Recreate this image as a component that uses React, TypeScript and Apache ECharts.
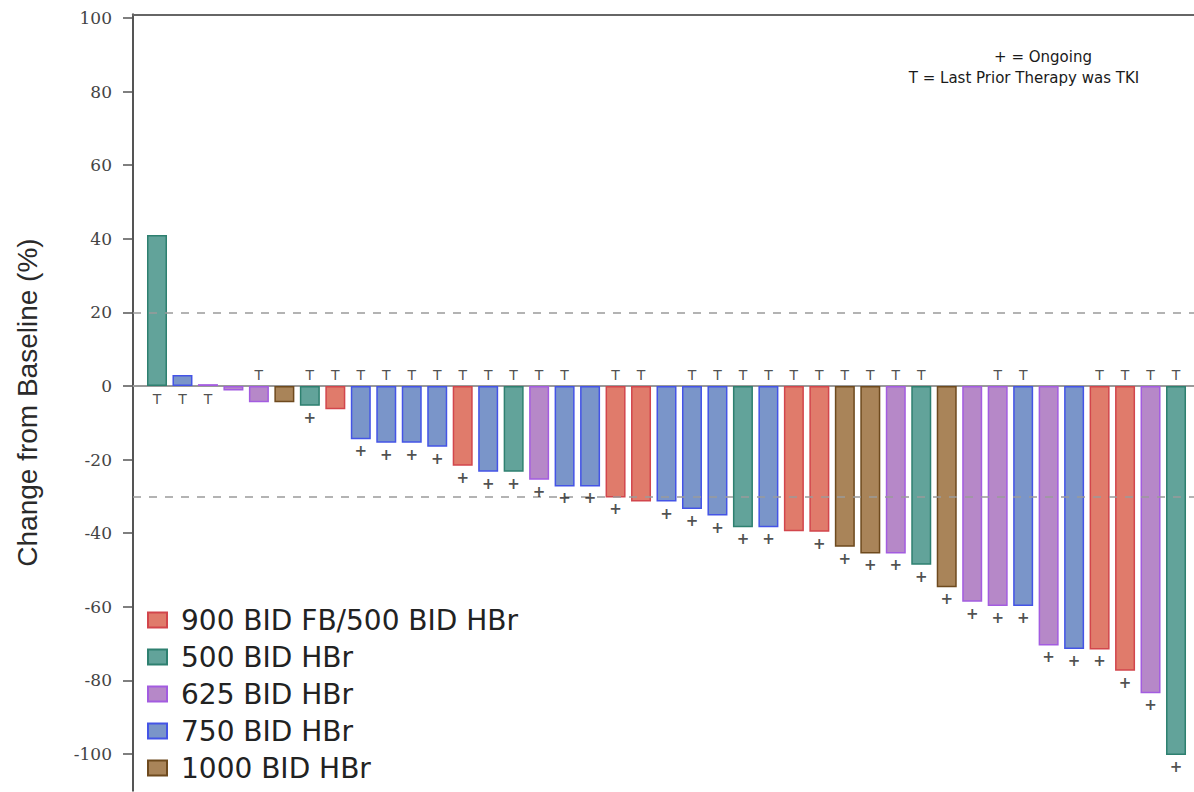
import React, { useEffect, useRef } from "react";
import * as echarts from "echarts";

// Dose groups (legend order)
const groupNames = [
  "900 BID FB/500 BID HBr",
  "500 BID HBr",
  "625 BID HBr",
  "750 BID HBr",
  "1000 BID HBr",
];
const groupFill = ["#E07B6B", "#62A39A", "#B688C8", "#7A95C9", "#A98459"];
const groupBorder = ["#D2464C", "#2E8070", "#A35CE0", "#4454E6", "#6E4A1E"];

// Best % change from baseline, one per patient (waterfall order)
const changes = [
  41, 3, 0.5, -1.2, -4.4, -4.4, -5.4, -6.3, -14.5, -15.4,
  -15.4, -16.5, -21.7, -23.3, -23.3, -25.5, -27.3, -27.3, -30.3, -31.4,
  -31.4, -33.4, -35.2, -38.4, -38.4, -39.5, -39.6, -43.7, -45.5, -45.5,
  -48.6, -54.7, -58.6, -59.8, -59.8, -70.5, -71.5, -71.6, -77.4, -83.5,
  -100.3,
];
// index into groupNames
const doseGroup = [
  1, 3, 2, 2, 2, 4, 1, 0, 3, 3,
  3, 3, 0, 3, 1, 2, 3, 3, 0, 0,
  3, 3, 3, 1, 3, 0, 0, 4, 4, 2,
  1, 4, 2, 2, 3, 2, 3, 0, 0, 2,
  1,
];
// "+" = ongoing
const ongoing = [
  0, 0, 0, 0, 0, 0, 1, 0, 1, 1,
  1, 1, 1, 1, 1, 1, 1, 1, 1, 0,
  1, 1, 1, 1, 1, 0, 1, 1, 1, 1,
  1, 1, 1, 1, 1, 1, 1, 1, 1, 1,
  1,
];
// "T" = last prior therapy was TKI
const priorTKI = [
  1, 1, 1, 0, 1, 0, 1, 1, 1, 1,
  1, 1, 1, 1, 1, 1, 1, 0, 1, 1,
  0, 1, 1, 1, 1, 1, 1, 1, 1, 1,
  1, 0, 0, 1, 1, 0, 0, 1, 1, 1,
  1,
];
const yTicks = [-100, -80, -60, -40, -20, 0, 20, 40, 60, 80, 100];
const refLines = [20, -30];

const X_MIN = -0.942;
const X_MAX = 40.706;

export default function App() {
  const ref = useRef<HTMLDivElement>(null);

  useEffect(() => {
    if (!ref.current) return;
    const chart = echarts.init(ref.current, null, { renderer: "svg" });

    const barSeries = groupNames.map((name, g) => ({
      name,
      type: "bar",
      barWidth: 20,
      barGap: "-100%",
      xAxisIndex: 0,
      itemStyle: {
        color: groupFill[g],
        borderColor: groupBorder[g],
        borderWidth: 1.5,
      },
      data: changes
        .map((v, i) => (doseGroup[i] === g ? [i, v] : null))
        .filter((d) => d !== null),
      markLine:
        g === 0
          ? {
              silent: true,
              symbol: "none",
              label: { show: false },
              lineStyle: { color: "#9a9a9a", width: 1.5, type: [8, 8] },
              data: refLines.map((y) => ({ yAxis: y })),
            }
          : undefined,
    }));

    const tSeries = {
      name: "T",
      type: "scatter",
      symbol: "circle",
      symbolSize: 1,
      itemStyle: { color: "rgba(0,0,0,0)" },
      z: 5,
      label: {
        show: true,
        formatter: "T",
        position: "inside",
        fontFamily: "DejaVu Sans",
        fontSize: 14,
        color: "#222",
        textBorderWidth: 0,
      },
      data: changes
        .map((v, i) =>
          priorTKI[i]
            ? { value: [i, 0], label: { offset: [0, v > 0 ? 13 : -11] } }
            : null
        )
        .filter((d) => d !== null),
    };

    const plusSeries = {
      name: "+",
      type: "scatter",
      symbol: "circle",
      symbolSize: 1,
      itemStyle: { color: "rgba(0,0,0,0)" },
      z: 5,
      label: {
        show: true,
        formatter: "+",
        position: "inside",
        offset: [0, 12],
        fontFamily: "DejaVu Sans",
        fontWeight: "bold",
        fontSize: 15,
        color: "#222",
        textBorderWidth: 0,
      },
      data: changes
        .map((v, i) => (ongoing[i] ? [i, v] : null))
        .filter((d) => d !== null),
    };

    chart.setOption({
      animation: false,
      backgroundColor: "#ffffff",
      grid: { left: 133, right: 0, top: 14.3, bottom: 1.2, containLabel: false },
      legend: {
        data: groupNames,
        orient: "vertical",
        left: 147,
        top: 606,
        itemWidth: 19,
        itemHeight: 15,
        itemGap: 9,
        padding: 0,
        icon: "rect",
        textStyle: {
          fontFamily: "DejaVu Sans",
          fontSize: 28,
          color: "#222",
          padding: [0, 0, 0, 9],
        },
      },
      xAxis: [
        {
          type: "value",
          min: X_MIN,
          max: X_MAX,
          axisLine: { show: true, onZero: true, lineStyle: { color: "#9a9a9a", width: 2 } },
          axisTick: { show: false },
          axisLabel: { show: false },
          splitLine: { show: false },
        },
        {
          type: "value",
          position: "top",
          min: X_MIN,
          max: X_MAX,
          axisLine: { show: true, onZero: false, lineStyle: { color: "#666", width: 2 } },
          axisTick: { show: false },
          axisLabel: { show: false },
          splitLine: { show: false },
        },
      ],
      yAxis: {
        type: "value",
        min: -110,
        max: 101,
        name: "Change from Baseline (%)",
        nameLocation: "middle",
        nameGap: 92,
        nameTextStyle: { fontFamily: "Liberation Sans", fontSize: 28, color: "#2a2a2a" },
        axisLine: { show: true, onZero: false, lineStyle: { color: "#555", width: 2 } },
        axisTick: { show: true, length: 10, customValues: yTicks, lineStyle: { color: "#555", width: 1.5 } },
        axisLabel: {
          customValues: yTicks,
          margin: 21,
          fontFamily: "DejaVu Serif",
          fontSize: 17,
          color: "#444",
        },
        splitLine: { show: false },
      },
      graphic: [
        {
          type: "text",
          x: 1043,
          y: 57,
          style: {
            text: "+ = Ongoing",
            fontFamily: "DejaVu Sans",
            fontSize: 15,
            fill: "#1a1a1a",
            align: "center",
            verticalAlign: "middle",
          },
        },
        {
          type: "text",
          x: 1024,
          y: 78,
          style: {
            text: "T = Last Prior Therapy was TKI",
            fontFamily: "DejaVu Sans",
            fontSize: 15,
            fill: "#1a1a1a",
            align: "center",
            verticalAlign: "middle",
          },
        },
      ],
      series: [...barSeries, tSeries, plusSeries],
    });

    return () => chart.dispose();
  }, []);

  return (
    <div
      ref={ref}
      style={{ position: "absolute", left: 0, top: 0, width: 1194, height: 792 }}
    />
  );
}
